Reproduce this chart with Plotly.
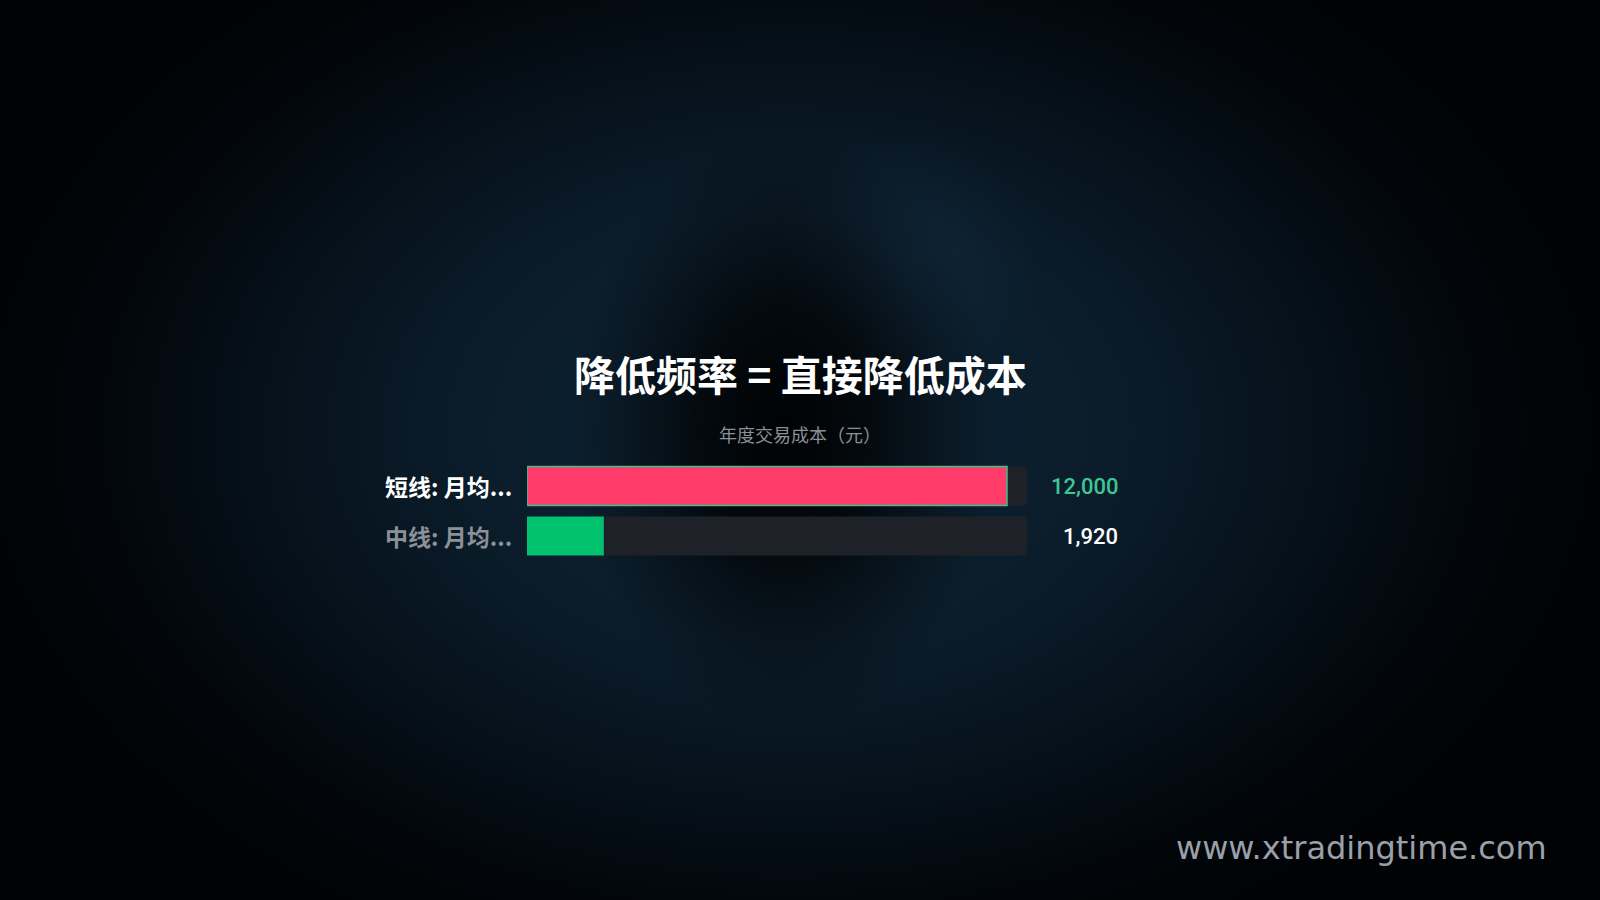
import base64
import plotly.graph_objects as go

# ---- data ----
categories = ["短线: 月均...", "中线: 月均..."]
values = [12000, 1920]
value_labels = ["12,000", "1,920"]
bar_colors = ["#FF3B6A", "#00C26F"]
label_colors = ["#FFFFFF", "#8B9099"]
value_colors = ["#3CC795", "#FFFFFF"]
title_text = "降低频率 = 直接降低成本"
subtitle_text = "年度交易成本（元）"
watermark = "www.xtradingtime.com"

W, H = 1600, 900
axis_max = max(values) / 0.96

# background: radial vignette as an SVG image
svg = f"""<svg xmlns='http://www.w3.org/2000/svg' width='{W}' height='{H}' viewBox='0 0 {W} {H}'>
<defs>
<radialGradient id='g' cx='790' cy='430' r='820' gradientUnits='userSpaceOnUse' gradientTransform='translate(790 430) scale(1 0.7) translate(-790 -430)'>
<stop offset='0' stop-color='#0c2131'/>
<stop offset='0.38' stop-color='#0b1d2b'/>
<stop offset='0.62' stop-color='#06121c'/>
<stop offset='0.85' stop-color='#02060a'/>
<stop offset='1' stop-color='#010204'/>
</radialGradient>
<radialGradient id='d' cx='785' cy='430' r='250' gradientUnits='userSpaceOnUse' gradientTransform='translate(785 430) scale(0.85 1.2) translate(-785 -430)'>
<stop offset='0' stop-color='#000000' stop-opacity='0.95'/>
<stop offset='0.4' stop-color='#000000' stop-opacity='0.7'/>
<stop offset='0.75' stop-color='#000000' stop-opacity='0.25'/>
<stop offset='1' stop-color='#000000' stop-opacity='0'/>
</radialGradient>
<radialGradient id='s' cx='910' cy='260' r='130' gradientUnits='userSpaceOnUse'>
<stop offset='0' stop-color='#16324a' stop-opacity='0.35'/>
<stop offset='1' stop-color='#16324a' stop-opacity='0'/>
</radialGradient>
</defs>
<rect width='{W}' height='{H}' fill='#010204'/>
<rect width='{W}' height='{H}' fill='url(#g)'/>
<rect width='{W}' height='{H}' fill='url(#s)'/>
<rect width='{W}' height='{H}' fill='url(#d)'/>
</svg>"""
bg_src = "data:image/svg+xml;base64," + base64.b64encode(svg.encode()).decode()

fig = go.Figure()

# track
fig.add_trace(go.Bar(
    y=categories, x=[axis_max] * len(categories), orientation="h",
    marker=dict(color="#1E2228", line=dict(width=0)),
    width=0.78, hoverinfo="skip", showlegend=False,
))
# values
fig.add_trace(go.Bar(
    y=categories, x=values, orientation="h",
    marker=dict(color=bar_colors,
                line=dict(color=["#3FBF8F", "rgba(0,0,0,0)"], width=[1.5, 0])),
    width=0.78, hoverinfo="skip", showlegend=False,
))

x0, x1 = 527 / W, 1027 / W
ytop, ybot = 461, 561

fig.update_layout(
    width=W, height=H,
    margin=dict(l=0, r=0, t=0, b=0),
    paper_bgcolor="#010204", plot_bgcolor="rgba(0,0,0,0)",
    barmode="overlay", barcornerradius=5,
    xaxis=dict(domain=[x0, x1], range=[0, axis_max], visible=False, fixedrange=True),
    yaxis=dict(domain=[1 - ybot / H, 1 - ytop / H], range=[1.5, -0.5], visible=False,
               type="category", categoryarray=categories, fixedrange=True),
    font=dict(family="Noto Sans CJK SC, Inter, sans-serif"),
    images=[dict(source=bg_src, xref="paper", yref="paper", x=0, y=1,
                 sizex=1, sizey=1, sizing="stretch", xanchor="left", yanchor="top",
                 layer="below")],
    showlegend=False,
)

# title and subtitle
fig.add_annotation(text=title_text, xref="paper", yref="paper", x=800 / W, y=1 - 373 / H,
                   xanchor="center", yanchor="middle", showarrow=False,
                   font=dict(size=41, color="#FFFFFF", family="Noto Sans CJK SC", weight="bold"))
fig.add_annotation(text=subtitle_text, xref="paper", yref="paper", x=800 / W, y=1 - 434 / H,
                   xanchor="center", yanchor="middle", showarrow=False,
                   font=dict(size=18, color="#8A9099", family="Noto Sans CJK SC"))

# category labels and value labels
for cat, lab_c, vlab, v_c in zip(categories, label_colors, value_labels, value_colors):
    fig.add_annotation(text=cat, xref="paper", yref="y", x=514 / W, y=cat,
                       xanchor="right", yanchor="middle", showarrow=False,
                       font=dict(size=23, color=lab_c, family="Noto Sans CJK SC", weight="bold"))
    fig.add_annotation(text=vlab, xref="paper", yref="y", x=1120 / W, y=cat,
                       xanchor="right", yanchor="middle", showarrow=False,
                       font=dict(size=22, color=v_c, family="Roboto", weight=500))

# watermark
fig.add_annotation(text=watermark, xref="paper", yref="paper", x=1549 / W, y=1 - 848 / H,
                   xanchor="right", yanchor="middle", showarrow=False,
                   font=dict(size=32, color="#9AA0AA", family="DejaVu Sans"))

fig.write_html("out.html", config={"displayModeBar": False},
               post_script="document.body.style.margin='0';document.body.style.background='#010204';")
